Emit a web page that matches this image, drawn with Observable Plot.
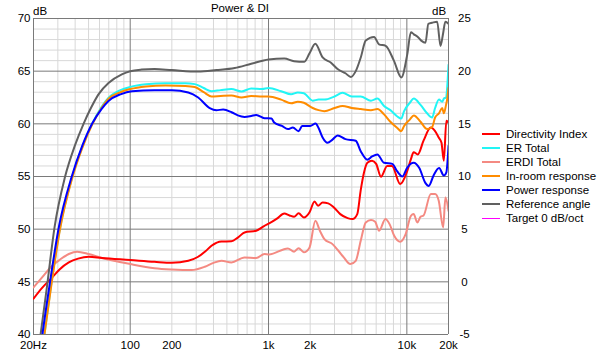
<!DOCTYPE html>
<html>
<head>
<meta charset="utf-8">
<script src="https://cdn.jsdelivr.net/npm/d3@7"></script>
<script src="https://cdn.jsdelivr.net/npm/@observablehq/plot@0.6"></script>
<style>
  html, body { margin: 0; padding: 0; background: #fff; }
  #wrap { position: relative; width: 600px; height: 353px; font-family: "Liberation Sans", Arial, sans-serif; font-size: 11.5px; color: #000; }
  #wrap svg { position: absolute; left: 0; top: 0; }
  .lbl { position: absolute; line-height: 12px; white-space: nowrap; }
  #legend { position: absolute; left: 482px; top: 127px; }
  .row { position: relative; height: 14px; line-height: 14px; }
  .sw { position: absolute; left: 0; top: 6px; width: 18px; height: 2px; }
  .tx { position: absolute; left: 24px; top: 0; white-space: nowrap; }
</style>
</head>
<body>
<div id="wrap"></div>
<script>
// ---------- tick labels ----------
const freqTicks = [20, 50, 100, 200, 500, 1000, 2000, 5000, 10000, 20000];
const freqTickLabels = ["20Hz", "50", "100", "200", "500", "1k", "2k", "5k", "10k", "20k"];
const freqMajor = [20, 100, 1000, 10000, 20000];
const freqMinor = [30, 40, 50, 60, 70, 80, 90, 200, 300, 400, 500, 600, 700, 800, 900,
  2000, 3000, 4000, 5000, 6000, 7000, 8000, 9000];
const dbTicks = [40, 45, 50, 55, 60, 65, 70];
const diOffset = 45; // right axis = left axis - 45

// ---------- Reference angle (left axis, dB) ----------
const refFreq = [20, 22.5, 25, 28.4, 33.7, 40, 46, 52, 59, 70, 87, 100, 121, 150, 200, 310, 420, 570, 750, 1000,
  1300, 1530, 1816, 1980, 2178, 2463, 2830, 3158, 3600, 3935, 4270, 4643, 5044, 5791, 6290, 7029, 8057, 9117,
  10070, 10700, 11230, 11890, 12700, 13630, 14300, 15230, 16560, 17500, 18290, 18970, 20000];
const refDb = [35.5, 40, 44.5, 50.2, 54.9, 58.0, 60.0, 61.5, 62.8, 63.9, 64.7, 65.0, 65.15, 65.2, 65.1, 64.96, 65.1, 65.3, 65.7, 66.1,
  66.2, 65.95, 65.9, 66.7, 67.6, 66.3, 65.8, 65.2, 64.8, 64.45, 65.0, 66.3, 67.9, 68.25, 67.55, 67.4, 66.0, 64.4,
  66.6, 68.7, 68.5, 68.3, 67.9, 67.7, 69.5, 69.6, 69.7, 67.4, 68.6, 69.7, 69.5];

// ---------- ER Total (left axis, dB) ----------
const erFreq = [20, 24, 27, 31, 38, 45, 53, 62, 70, 85, 100, 130, 180, 250, 293, 340, 387, 450, 539, 637, 750, 900, 1000,
  1234, 1456, 1627, 1800, 2087, 2300, 2535, 3000, 3431, 4000, 4643, 5500, 6124, 6840, 7600, 8530, 9100, 9550,
  10500, 11230, 12560, 14000, 15230, 16000, 17070, 18000, 18530, 19200, 19600, 20000];
const erDb = [33.5, 40, 45, 50, 54.9, 57.8, 60.0, 61.6, 62.5, 63.2, 63.5, 63.75, 63.85, 63.85, 63.77, 63.4, 63.1, 63.2, 63.3, 63.07, 63.35, 63.3, 63.4,
  63.1, 62.8, 62.97, 62.9, 62.2, 62.3, 62.3, 62.6, 62.95, 62.6, 62.6, 62.2, 62.4, 61.7, 61.3, 60.7, 60.5, 61.2,
  62.0, 62.4, 61.8, 61.0, 60.6, 61.5, 62.3, 62.1, 62.4, 62.5, 63.6, 65.6];

// ---------- In-room response (left axis, dB) ----------
const inroomFreq = erFreq;
const inroomDb = [33.3, 40, 44.8, 49.9, 54.8, 57.7, 59.9, 61.5, 62.4, 63.0, 63.3, 63.55, 63.65, 63.6, 63.5, 63.0, 62.6, 62.65, 62.7, 62.5, 62.65, 62.6, 62.6,
  62.3, 61.95, 62.1, 62.0, 61.5, 61.3, 61.2, 61.5, 61.7, 61.5, 61.4, 61.3, 61.4, 60.9, 60.2, 59.6, 59.3, 59.8,
  60.4, 60.8, 60.2, 59.5, 59.7, 60.6, 61.0, 61.5, 61.0, 61.8, 62.4, 63.4];

// ---------- Power response (left axis, dB) ----------
const powerFreq = [20, 23.2, 26, 30.5, 37.6, 45, 53, 62, 70, 85, 103, 150, 200, 263, 310, 376, 420, 470, 540, 600, 671, 750,
  815, 935, 1050, 1100, 1250, 1380, 1500, 1650, 1750, 2000, 2190, 2300, 2460, 2670, 2900, 3160, 3600, 4270, 4640,
  5180, 5600, 6120, 6840, 7850, 8500, 9280, 10070, 11200, 12300, 13600, 14400, 15600, 17100, 18500, 19300, 20000];
const powerDb = [33, 40, 44.5, 50.2, 54.9, 57.9, 60.0, 61.4, 62.2, 62.8, 63.1, 63.2, 63.2, 62.97, 62.5, 61.5, 61.3, 61.35, 61.1, 60.8, 60.66, 60.75,
  60.85, 60.54, 60.5, 60.12, 59.8, 59.5, 59.65, 59.3, 59.8, 59.8, 60.03, 59.6, 58.7, 58.2, 58.5, 58.9, 58.55, 58.4, 57.4,
  56.6, 56.9, 57.1, 56.3, 56.2, 55.5, 55.0, 55.85, 56.3, 55.8, 54.4, 54.1, 55.1, 55.8, 55.1, 55.4, 57.9];

// ---------- Directivity Index (right axis, dB) ----------
const diFreq = [20, 23, 27.3, 31, 36, 42, 50, 62.6, 100, 150, 200, 263, 310, 350, 387, 457, 539, 600, 671, 815, 935, 1010,
  1150, 1300, 1420, 1530, 1650, 1800, 1980, 2150, 2280, 2460, 2700, 2970, 3300, 3730, 4050, 4380, 4640, 4900, 5180,
  5600, 6000, 6500, 7200, 7800, 8950, 10070, 10700, 11200, 12000, 13200, 14900, 16000, 17000, 17800, 18500, 19300, 20000];
const diDb = [-1.6, -0.6, 0.42, 1.2, 1.84, 2.2, 2.38, 2.26, 2.07, 1.9, 1.81, 2.0, 2.38, 2.9, 3.42, 3.83, 3.85, 4.2, 4.69, 4.85, 5.32, 5.54,
  6.0, 6.49, 6.3, 6.18, 6.5, 6.1, 6.6, 7.63, 7.22, 7.53, 7.45, 7.06, 6.43, 6.05, 5.96, 6.43, 8.7, 10.38, 11.3,
  11.5, 11.2, 9.97, 11.0, 11.0, 9.28, 10.54, 11.65, 12.3, 12.1, 13.4, 14.65, 14.3, 13.7, 13.2, 11.5, 15.3, 15.1];

// ---------- ERDI Total (right axis, dB) ----------
const erdiFreq = [20, 23, 27.3, 31, 36, 41.4, 50, 62.6, 100, 150, 200, 278, 346, 400, 457, 539, 671, 815, 935, 1010,
  1380, 1530, 1650, 1800, 1980, 2180, 2350, 2535, 2900, 3200, 3500, 3900, 4270, 4640, 5044, 5500, 5900, 6300,
  7000, 7500, 8100, 8950, 9800, 10700, 11200, 11900, 12560, 13200, 14900, 16000, 17000, 18300, 19000, 20000];
const erdiDb = [-0.53, 0.4, 1.53, 2.1, 2.64, 2.86, 2.64, 2.26, 1.69, 1.3, 1.18, 1.12, 1.43, 1.8, 2.0, 1.84, 2.32, 2.26, 2.64, 2.6,
  3.17, 2.86, 3.2, 2.8, 3.27, 5.8, 4.85, 4.06, 3.58, 2.95, 2.32, 1.69, 2.0, 3.9, 5.64, 5.86, 5.7, 4.85,
  5.96, 5.48, 4.37, 3.8, 4.53, 6.27, 6.43, 5.64, 6.18, 6.3, 8.33, 8.33, 7.7, 5.16, 8.0, 6.75];

// ---------- series ----------
const series = [
  {name: "Directivity Index", color: "#ff0000", freq: diFreq, vals: diDb, right: true, width: 2},
  {name: "ER Total", color: "#22f5f5", freq: erFreq, vals: erDb, right: false, width: 2},
  {name: "ERDI Total", color: "#f48a82", freq: erdiFreq, vals: erdiDb, right: true, width: 2},
  {name: "In-room response", color: "#ff8c00", freq: inroomFreq, vals: inroomDb, right: false, width: 2},
  {name: "Power response", color: "#0000ff", freq: powerFreq, vals: powerDb, right: false, width: 2},
  {name: "Reference angle", color: "#606060", freq: refFreq, vals: refDb, right: false, width: 2},
  {name: "Target 0 dB/oct", color: "#ff00ff", freq: [], vals: [], right: false, width: 1}
];
const drawOrder = ["ERDI Total", "Directivity Index", "Reference angle", "ER Total", "In-room response", "Power response"];

const yMinor = d3.range(41, 70).filter(v => v % 5 !== 0);
const tickLabelMap = new Map(freqTicks.map((t, i) => [t, freqTickLabels[i]]));

const lineMarks = drawOrder.map(n => {
  const s = series.find(q => q.name === n);
  const rows = s.freq.map((f, i) => ({f, v: s.vals[i] + (s.right ? diOffset : 0)}));
  return Plot.line(rows, {x: "f", y: "v", stroke: s.color, strokeWidth: s.width, curve: "monotone-x", clip: true});
});

const chart = Plot.plot({
  width: 600,
  height: 353,
  marginLeft: 33,
  marginRight: 152,
  marginTop: 18,
  marginBottom: 19,
  x: {type: "log", domain: [20, 20000]},
  y: {domain: [40, 70]},
  style: {fontFamily: "'Liberation Sans', Arial, sans-serif", fontSize: "11.5px", color: "#000", background: "transparent"},
  marks: [
    Plot.ruleX(freqMinor, {stroke: "#d8d8d8", strokeWidth: 1}),
    Plot.ruleY(yMinor, {stroke: "#d8d8d8", strokeWidth: 1}),
    Plot.ruleX(freqMajor, {stroke: "#7a7a7a", strokeWidth: 1}),
    Plot.ruleY(dbTicks, {stroke: "#7a7a7a", strokeWidth: 1}),
    ...lineMarks,
    Plot.axisX({ticks: freqTicks, tickFormat: d => tickLabelMap.get(d), tickSize: 0, tickPadding: 6, label: null, fill: "#000"}),
    Plot.axisY({ticks: dbTicks, tickFormat: d => String(d), tickSize: 0, tickPadding: 3, label: null, fill: "#000"}),
    Plot.axisY({anchor: "right", ticks: dbTicks, tickFormat: d => String(d - diOffset), tickSize: 0, tickPadding: 16, textAnchor: "middle", label: null, fill: "#000"})
  ]
});

const wrap = document.getElementById("wrap");
wrap.appendChild(chart);

function addLabel(text, css) {
  const el = document.createElement("div");
  el.className = "lbl";
  el.textContent = text;
  Object.assign(el.style, css);
  wrap.appendChild(el);
}
addLabel("Power & DI", {left: "0px", width: "480px", textAlign: "center", top: "2px"});
addLabel("dB", {left: "33px", top: "5px"});
addLabel("dB", {left: "432px", top: "5px"});

const legend = document.createElement("div");
legend.id = "legend";
series.forEach(s => {
  const row = document.createElement("div");
  row.className = "row";
  const sw = document.createElement("div");
  sw.className = "sw";
  sw.style.background = s.color;
  sw.style.height = s.width + "px";
  sw.style.top = (s.width > 1 ? 6 : 7) + "px";
  const tx = document.createElement("div");
  tx.className = "tx";
  tx.textContent = s.name;
  row.appendChild(sw);
  row.appendChild(tx);
  legend.appendChild(row);
});
wrap.appendChild(legend);
</script>
</body>
</html>
